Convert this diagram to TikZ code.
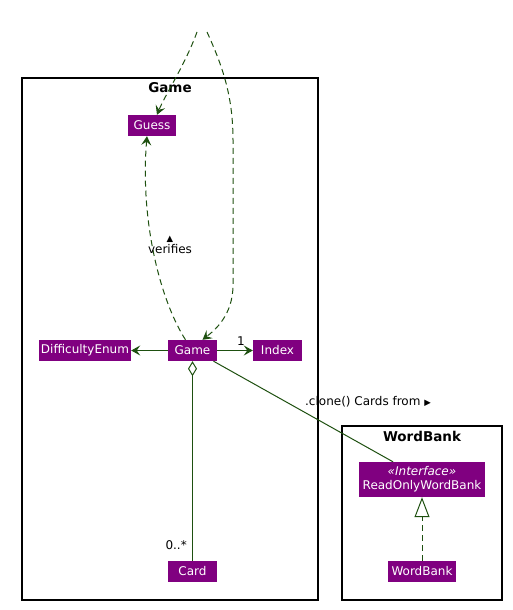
\documentclass[tikz,border=0pt]{standalone}
\usepackage{fontspec}
\setmainfont{DejaVu Sans}
\usetikzlibrary{arrows.meta,calc}
\definecolor{cls}{RGB}{128,0,128}
\definecolor{lnk}{RGB}{30,80,16}
\tikzset{
  cbox/.style={fill=cls,text=white,inner sep=0pt,minimum height=21pt,font=\fontsize{12}{13}\selectfont},
  frame/.style={draw=black,line width=1.1pt},
  ftitle/.style={font=\fontsize{13.5}{14}\selectfont\bfseries},
  lnkline/.style={draw=lnk,line width=1pt},
  dsh/.style={lnkline,dash pattern=on 6pt off 4pt},
  vtip/.style={-{Stealth[length=9pt,width=10pt,inset=3.5pt]}},
  lbl/.style={font=\fontsize{12}{13}\selectfont,inner sep=0pt},
}
\begin{document}
\begin{tikzpicture}[x=1pt,y=-1pt]
\useasboundingbox (0,0) rectangle (512,610);
% frames
\draw[frame] (22,78) rectangle (318,600);
\node[ftitle] (gtitle) at (170,88) {Game};
\draw[frame] (342,426) rectangle (502,600);
\node[ftitle] (wtitle) at (422,436) {WordBank};
% classes
\node[cbox,minimum width=48pt] (guess) at (152,125.5) {Guess};
\node[cbox,minimum width=92pt] (diff) at (85,350.5) {DifficultyEnum};
\node[cbox,minimum width=49pt] (game) at (192.5,350.5) {Game};
\node[cbox,minimum width=49pt] (index) at (277.5,350.5) {Index};
\node[cbox,minimum width=49pt] (card) at (192.5,571.5) {Card};
\node[cbox,minimum width=126pt,minimum height=35pt,align=center,font=\fontsize{12}{14}\selectfont] (rowb) at (422,479.5) {{\itshape «Interface»}\\ReadOnlyWordBank};
\node[cbox,minimum width=68pt] (wb) at (422,571.5) {WordBank};
% hidden source at top
\coordinate (srcL) at (197,32);
\coordinate (srcR) at (207,32);
% links
\draw[dsh,vtip] (srcL) .. controls (185,65) and (165,95) .. ([xshift=5pt]guess.north);
\draw[dsh,vtip] (srcR) .. controls (222,65) and (233,95) .. (233,140) -- (233,285) .. controls (233,315) and (215,330) .. ([xshift=10pt]game.north);
\draw[dsh,vtip] ([xshift=-7pt]game.north) .. controls (160,300) and (140,220) .. ([xshift=-5pt]guess.south);
\node[lbl,align=center] (verlbl) at (170,245) {\fontsize{8.5}{9}\selectfont ▲\\[-1pt]verifies};
\draw[lnkline,vtip] (game.west) -- (diff.east);
\draw[lnkline,vtip] (game.east) -- (index.west);
\node[lbl] (one) at (241,341) {1};
\draw[lnkline,{Diamond[open,length=15pt,width=9pt]}-] (game.south) -- (card.north);
\node[lbl,anchor=east] (mult) at (187,545) {0..*};
\draw[lnkline] ([xshift=21pt]game.south) -- ([xshift=-29pt]rowb.north);
\node[lbl] (clone) at (368,402) {.clone() Cards from {\fontsize{8.5}{9}\selectfont ▶}};
\draw[dsh,-{Triangle[open,length=20pt,width=15pt]}] (wb.north) -- (rowb.south);
\end{tikzpicture}
\end{document}
